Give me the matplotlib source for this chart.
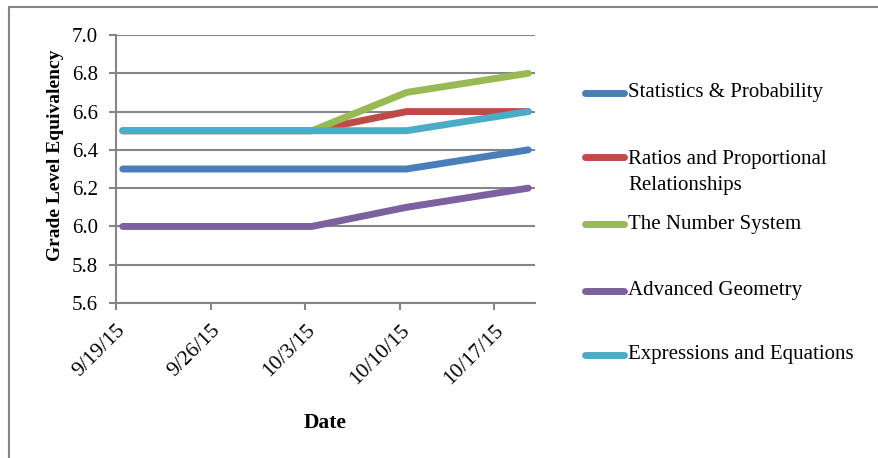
import matplotlib.pyplot as plt
import matplotlib.dates as mdates
from matplotlib.lines import Line2D
from matplotlib.patches import Rectangle
import datetime as dt

plt.rcParams['font.family'] = ['Liberation Serif', 'DejaVu Serif']

# data
dates = [dt.date(2015, 9, 19), dt.date(2015, 10, 3), dt.date(2015, 10, 10), dt.date(2015, 10, 19)]
series_names = ['Statistics & Probability', 'Ratios and Proportional\nRelationships',
                'The Number System', 'Advanced Geometry', 'Expressions and Equations']
stats_prob = [6.3, 6.3, 6.3, 6.4]
ratios = [6.5, 6.5, 6.6, 6.6]
number_system = [6.5, 6.5, 6.7, 6.8]
geometry = [6.0, 6.0, 6.1, 6.2]
expressions = [6.5, 6.5, 6.5, 6.6]
tick_dates = [dt.date(2015, 9, 19), dt.date(2015, 9, 26), dt.date(2015, 10, 3),
              dt.date(2015, 10, 10), dt.date(2015, 10, 17)]
y_ticks = [5.6, 5.8, 6.0, 6.2, 6.4, 6.6, 6.8, 7.0]

colors = ['#4A7EBB', '#BE4B48', '#98B954', '#7D60A0', '#4BACC6']
all_series = [stats_prob, ratios, number_system, geometry, expressions]

fig = plt.figure(figsize=(8.79, 4.58), dpi=100)
ax = fig.add_axes([116 / 879, 1 - 303 / 458, 419 / 879, 268 / 458])

# Excel "between tick marks" puts each point half a day to the right
x = [mdates.date2num(d) + 0.5 for d in dates]
for vals, c in zip(all_series, colors):
    ax.plot(x, vals, color=c, lw=5, solid_capstyle='round', solid_joinstyle='round',
            clip_on=False, zorder=3)

ax.set_xlim(mdates.date2num(tick_dates[0]), mdates.date2num(dt.date(2015, 10, 20)))
ax.set_ylim(5.6, 7.0)
ax.set_xticks([mdates.date2num(d) for d in tick_dates])
ax.set_xticklabels([f'{d.month}/{d.day}/15' for d in tick_dates], rotation=45,
                   ha='right', va='top', rotation_mode='anchor', fontsize=15.5)
ax.set_yticks(y_ticks)
ax.set_yticklabels([f'{v:.1f}' for v in y_ticks], fontsize=15)
ax.grid(axis='y', color='#868686', lw=1.5, zorder=1)
for s in ['top', 'right']:
    ax.spines[s].set_visible(False)
for s in ['left', 'bottom']:
    ax.spines[s].set_color('#868686')
    ax.spines[s].set_linewidth(1.5)
ax.tick_params(axis='x', direction='out', length=5, width=1.5, color='#868686', pad=8)
ax.tick_params(axis='y', direction='out', length=5, width=1.5, color='#868686', pad=8)

ax.set_ylabel('Grade Level Equivalency', fontsize=14, fontweight='bold', labelpad=6)
ax.yaxis.set_label_coords(-0.125, 0.552)
ax.set_xlabel('Date', fontsize=15.5, fontweight='bold', labelpad=18)

# legend drawn by hand to match the uneven spacing
legend_y = [93, 157, 224, 291, 355]
for name, c, ly in zip(series_names, colors, legend_y):
    yf = 1 - ly / 458
    fig.add_artist(Line2D([585 / 879, 624 / 879], [yf, yf], color=c, lw=5,
                          solid_capstyle='round'))
    if '\n' in name:
        fig.text(628 / 879, yf + 7 / 458, name, fontsize=15, va='top',
                 linespacing=1.5, transform=fig.transFigure)
    else:
        fig.text(628 / 879, yf, name, fontsize=15, va='center', transform=fig.transFigure)

# outer chart frame
fig.add_artist(Rectangle((9 / 879, -0.1), 1.0, 1 - 7 / 458 + 0.1, transform=fig.transFigure,
                         fill=False, edgecolor='#868686', lw=1.5))

fig.savefig('out.png', dpi=100)
